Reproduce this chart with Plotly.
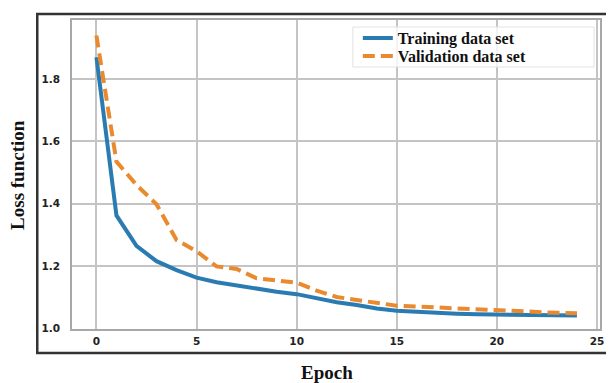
import plotly.graph_objects as go

epochs = list(range(25))
training = [1.87, 1.362, 1.264, 1.215, 1.186, 1.162, 1.147, 1.136, 1.126, 1.117, 1.109,
            1.095, 1.083, 1.074, 1.063, 1.056, 1.052, 1.049, 1.046, 1.044, 1.043, 1.042,
            1.041, 1.040, 1.040]
validation = [1.94, 1.535, 1.46, 1.398, 1.283, 1.247, 1.198, 1.19, 1.16, 1.153, 1.146,
              1.12, 1.10, 1.09, 1.08, 1.072, 1.069, 1.066, 1.061, 1.058, 1.056, 1.053,
              1.051, 1.049, 1.048]
x_ticks = [0, 5, 10, 15, 20, 25]
y_ticks = [1.0, 1.2, 1.4, 1.6, 1.8]

fig = go.Figure()
fig.add_trace(go.Scatter(x=epochs, y=training, mode="lines", name="Training data set",
                         line=dict(color="#2b7bb3", width=4), legend="legend"))
fig.add_trace(go.Scatter(x=epochs, y=validation, mode="lines", name="Validation data set",
                         line=dict(color="#ea8a2e", width=4, dash="12px,6px"),
                         legend="legend2"))

tickfont = dict(family="DejaVu Sans", size=10.5, color="#222222", weight="bold")
legfont = dict(family="Liberation Serif", size=16, color="#111111", weight="bold")
PW, PH = 532, 309  # plot area size in px (plot area at page x 72..604, y 20..329)


def leg(row_y):
    return dict(x=(360 - 72) / PW, y=1 - (row_y - 20) / PH, xanchor="left", yanchor="middle",
                bgcolor="rgba(0,0,0,0)", borderwidth=0, font=legfont, itemwidth=30)


fig.update_layout(
    # page body has an 8px margin, so the figure is 8px smaller than the window
    width=606, height=375,
    margin=dict(l=64, r=10, t=12, b=54),
    paper_bgcolor="white", plot_bgcolor="white",
    showlegend=True,
    legend=leg(38),
    legend2=leg(56),
    xaxis=dict(range=[-1.22, 25.15], tickvals=x_ticks, showgrid=True, gridcolor="#c4c4c4",
               gridwidth=1.5, zeroline=False, showline=True, linecolor="#a8a8a8", linewidth=1.5,
               mirror=True, ticks="", tickfont=tickfont, ticklabelstandoff=2),
    yaxis=dict(range=[0.997, 1.99], tickvals=y_ticks, tickformat=".1f", showgrid=True,
               gridcolor="#c4c4c4", gridwidth=1.5, zeroline=False, showline=True,
               linecolor="#a8a8a8", linewidth=1.5, mirror=True, ticks="", tickfont=tickfont,
               ticklabelstandoff=8),
    shapes=[
        dict(type="rect", xref="paper", yref="paper",
             x0=-35 / PW, x1=1.05, y0=-24 / PH, y1=1 + 6 / PH,
             line=dict(color="#333333", width=2.5), fillcolor="rgba(0,0,0,0)"),
        dict(type="rect", xref="paper", yref="paper", layer="above",
             x0=(355 - 72) / PW, x1=(598 - 72) / PW, y0=1 - (67 - 20) / PH, y1=1 - (27 - 20) / PH,
             line=dict(color="#e2e2e2", width=1), fillcolor="rgba(255,255,255,0.8)"),
    ],
    annotations=[
        dict(text="Epoch", xref="paper", yref="paper", x=(329 - 72) / PW, y=-(372 - 329) / PH,
             xanchor="center", yanchor="middle", showarrow=False,
             font=dict(family="Liberation Serif", size=19, color="#111111", weight="bold")),
        dict(text="Loss function", xref="paper", yref="paper", x=-(72 - 17) / PW, y=0.50,
             xanchor="center", yanchor="middle", textangle=-90, showarrow=False,
             font=dict(family="Liberation Serif", size=19, color="#111111", weight="bold")),
    ],
)

fig.write_html("out.html")
